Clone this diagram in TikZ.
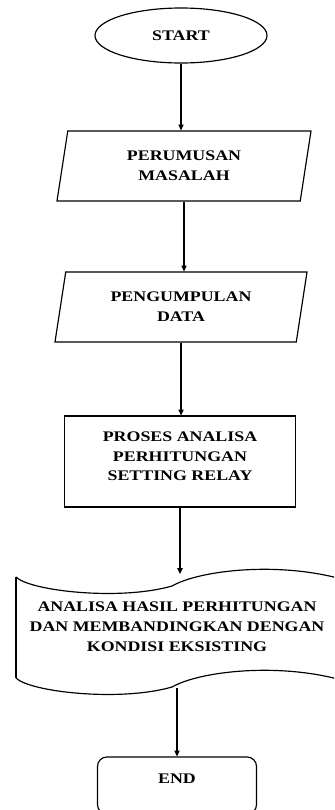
\documentclass[tikz,border=0pt]{standalone}
\usepackage{fontspec}
\setmainfont{Liberation Serif}[FakeStretch=1.22]
\usepackage{tikz}
\usetikzlibrary{arrows.meta, shapes.geometric}
\usetikzlibrary{positioning}

\begin{document}
\begin{tikzpicture}[x=0.03cm, y=-0.03cm, line width=1pt,
	every node/.style={font=\fontsize{12.5}{17}\selectfont\bfseries, align=center},
	flow/.style={draw, line width=1pt},
	io/.style={flow, trapezium, trapezium left angle=74, trapezium right angle=106,
		trapezium stretches body, minimum height=2.1cm},
	arr/.style={-{Triangle[length=5pt, width=4.5pt]}}]

	\useasboundingbox (0,0) rectangle (334,810);
	\clip (0,0) rectangle (334,810);

	\node[flow, ellipse, minimum width=5.16cm, minimum height=1.65cm] (start) at (181,35.5) {START};

	\node[io, minimum width=7.62cm] (rumus) at (184,166) {PERUMUSAN\\MASALAH};
	\node[io, minimum width=7.56cm] (kumpul) at (181,307) {PENGUMPULAN\\DATA};

	\node[flow, rectangle, minimum width=6.93cm, minimum height=2.73cm, text depth=9pt] (proses) at (180,461.5)
		{PROSES ANALISA\\PERHITUNGAN\\SETTING RELAY};

	% dokumen dengan tepi bergelombang
	\node (hasil) at (177,627) {ANALISA HASIL PERHITUNGAN\\DAN MEMBANDINGKAN DENGAN\\KONDISI EKSISTING};
	\draw (16,577) .. controls (30,591) and (120,601) .. (172,586)
		.. controls (200,570) and (280,561) .. (345,580);
	\draw (16,678) .. controls (30,692) and (120,702) .. (172,687)
		.. controls (200,671) and (280,662) .. (345,681);
	\draw (16,577) -- (16,678);
	\coordinate (hasiltop) at (177,574);
	\coordinate (hasilbot) at (177,688);

	\node[flow, rectangle, rounded corners=8pt, minimum width=4.77cm, minimum height=1.71cm,
		text depth=12pt] (end) at (177,785.5) {END};

	\draw[arr] (start) -- (start |- rumus.north);
	\draw[arr] (rumus.south) -- (rumus.south |- kumpul.north);
	\draw[arr] (kumpul.south) -- (kumpul.south |- proses.north);
	\draw[arr] (proses.south) -- (proses.south |- hasiltop);
	\draw[arr] (hasilbot) -- (hasilbot |- end.north);
\end{tikzpicture}
\end{document}
